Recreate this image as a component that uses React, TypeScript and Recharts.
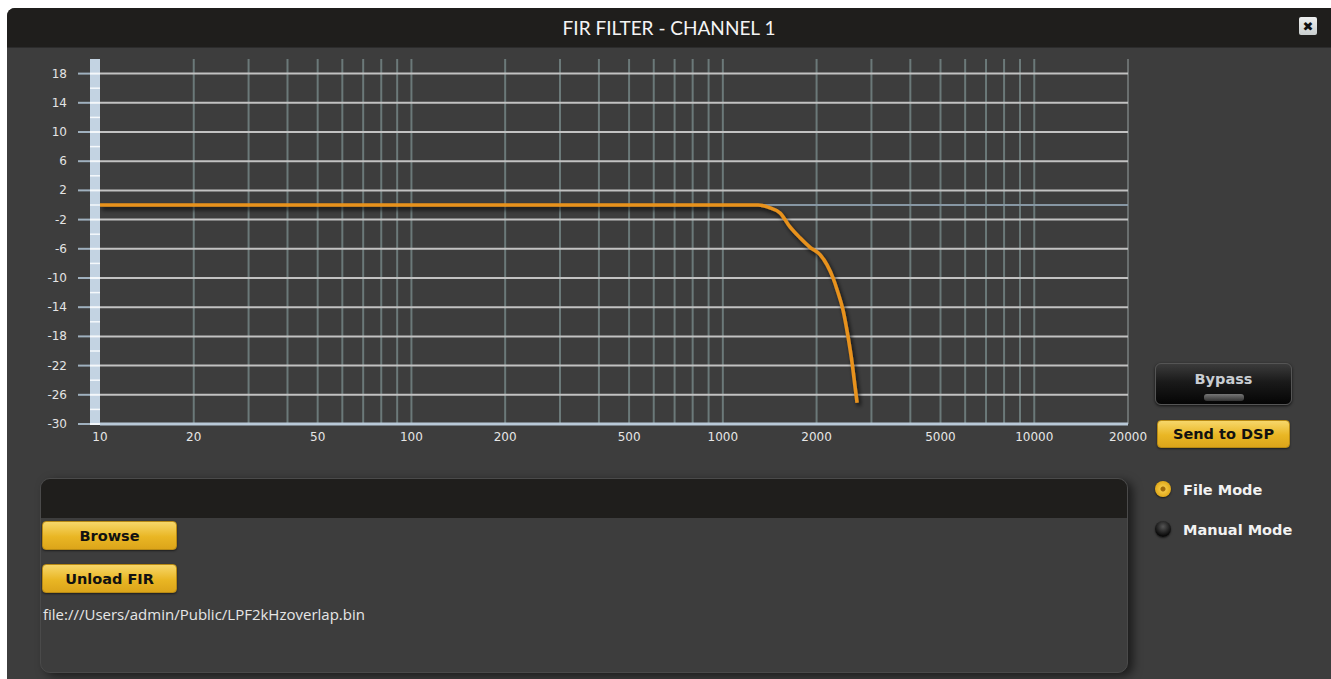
import { Line, LineChart, ReferenceLine, XAxis, YAxis } from "recharts";

// measured FIR response (Hz / dB)
const freqHz = [10, 100, 1000, 1300, 1418, 1527, 1643, 1770, 1906, 2052, 2161, 2259, 2327, 2432, 2525, 2600, 2658, 2698];
const gainDb = [0, 0, 0, 0, -0.4, -1.1, -3.0, -4.5, -5.8, -6.8, -8.2, -10.0, -11.6, -14.4, -18.1, -21.6, -24.9, -27.1];

const xTicks = [10, 20, 50, 100, 200, 500, 1000, 2000, 5000, 10000, 20000];
const xGrid = [
  20, 30, 40, 50, 60, 70, 80, 90, 100,
  200, 300, 400, 500, 600, 700, 800, 900, 1000,
  2000, 3000, 4000, 5000, 6000, 7000, 8000, 9000, 10000, 20000,
];
const yLabels = [18, 14, 10, 6, 2, -2, -6, -10, -14, -18, -22, -26, -30];
const yMarks = [-30, -28, -26, -24, -22, -20, -18, -16, -14, -12, -10, -8, -6, -4, -2, 0, 2, 4, 6, 8, 10, 12, 14, 16, 18];

const data = freqHz.map((f, i) => ({ f, db: gainDb[i] }));

const uiFont = "'DejaVu Sans', Verdana, sans-serif";

function GainTick(props: any) {
  const { x, y, payload } = props;
  const labelled = yLabels.includes(payload.value);
  return (
    <g>
      {labelled && <line x1={x + 11} x2={x + 23} y1={y} y2={y} stroke="#9fb0be" strokeWidth={2} />}
      <line x1={x + 23} x2={x + 33} y1={y} y2={y} stroke="#f4f8fb" strokeWidth={labelled ? 2 : 1.5} />
      {labelled && (
        <text x={x} y={y} dy={4} textAnchor="end" fill="#e4e4e4" fontSize={12} fontFamily={uiFont}>
          {payload.value}
        </text>
      )}
    </g>
  );
}

const yellowBtn = {
  position: "absolute" as const,
  background: "linear-gradient(#f7d76a, #e9b624 55%, #dca51a)",
  borderRadius: 4,
  border: "1px solid #b88a14",
  boxSizing: "border-box" as const,
  color: "#111",
  fontFamily: uiFont,
  fontWeight: 700,
  fontSize: 14.5,
  display: "flex",
  alignItems: "center",
  justifyContent: "center",
  boxShadow: "0 1px 2px rgba(0,0,0,0.5)",
};

const radioLabel = {
  position: "absolute" as const,
  left: 1183,
  color: "#f2f2f2",
  fontFamily: uiFont,
  fontWeight: 700,
  fontSize: 14.5,
  lineHeight: "16px",
};

export default function App() {
  return (
    <div style={{ position: "absolute", left: 0, top: 0, width: 1331, height: 679, background: "#fff", overflow: "hidden" }}>
      <style>{`body{margin:0}.fir-curve .recharts-line-curve{filter:url(#curveShadow)}`}</style>

      {/* window */}
      <div style={{ position: "absolute", left: 7, top: 8, width: 1324, height: 671, background: "#3d3d3d", borderTopLeftRadius: 8 }} />
      <div
        style={{
          position: "absolute",
          left: 7,
          top: 8,
          width: 1324,
          height: 39,
          background: "#1f1e1c",
          borderTopLeftRadius: 8,
          borderBottom: "1px solid #2c2c2c",
          color: "#f4f4f4",
          fontFamily: "Lato, 'Open Sans', sans-serif",
          fontSize: 19,
          display: "flex",
          alignItems: "center",
          justifyContent: "center",
        }}
      >
        FIR FILTER - CHANNEL 1
      </div>
      <div
        style={{
          position: "absolute",
          left: 1299,
          top: 17,
          width: 18,
          height: 18,
          background: "linear-gradient(#eef0f0, #c9cece)",
          borderRadius: 2,
          color: "#111",
          fontFamily: uiFont,
          fontSize: 13,
          fontWeight: 700,
          display: "flex",
          alignItems: "center",
          justifyContent: "center",
        }}
      >
        ✖
      </div>

      {/* y strip */}
      <div style={{ position: "absolute", left: 90, top: 59, width: 10, height: 365, background: "#c3d3e2" }} />

      <div style={{ position: "absolute", left: 0, top: 0 }}>
        <LineChart width={1331} height={460} data={data} margin={{ top: 59, right: 203, bottom: 6, left: 0 }}>
          <defs>
            <filter id="curveShadow" filterUnits="userSpaceOnUse" x="0" y="0" width="1331" height="460">
              <feDropShadow dx="2" dy="3" stdDeviation="2" floodColor="#000" floodOpacity="0.8" />
            </filter>
          </defs>
          <XAxis
            dataKey="f"
            type="number"
            scale="log"
            domain={[10, 20000]}
            ticks={xTicks}
            interval={0}
            allowDataOverflow
            height={30}
            tickLine={false}
            axisLine={{ stroke: "#b9c9d8", strokeWidth: 3 }}
            tick={{ fill: "#e6e6e6", fontSize: 12, fontFamily: uiFont }}
          />
          <YAxis
            type="number"
            domain={[-30, 20]}
            ticks={yMarks}
            interval={0}
            width={100}
            tickSize={22}
            tickMargin={11}
            tickLine={false}
            axisLine={false}
            tick={<GainTick />}
          />
          {xGrid.map((v) => (
            <ReferenceLine key={`x${v}`} x={v} stroke={v === 20000 ? "#6a6f6f" : "#6b7979"} strokeWidth={2} />
          ))}
          {yLabels
            .filter((v) => v !== -30)
            .map((v) => (
              <ReferenceLine key={`y${v}`} y={v} stroke="#c2c2c2" strokeWidth={2} />
            ))}
          <ReferenceLine y={0} stroke="#8797a4" strokeWidth={2} />
          <Line
            className="fir-curve"
            dataKey="db"
            type="monotone"
            stroke="#e8921e"
            strokeWidth={3.5}
            dot={false}
            activeDot={false}
            isAnimationActive={false}
          />
        </LineChart>
      </div>

      {/* right controls */}
      <div
        style={{
          position: "absolute",
          left: 1155,
          top: 363,
          width: 137,
          height: 42,
          boxSizing: "border-box",
          borderRadius: 6,
          border: "1px solid #555",
          background: "linear-gradient(#3b3b3b, #1a1a1a 45%, #050505)",
          boxShadow: "0 1px 3px rgba(0,0,0,0.7)",
          color: "#c9cdd2",
          fontFamily: uiFont,
          fontWeight: 700,
          fontSize: 14.5,
          textAlign: "center",
          paddingTop: 7,
        }}
      >
        Bypass
        <div
          style={{
            position: "absolute",
            left: 48,
            top: 30,
            width: 40,
            height: 7,
            borderRadius: 3,
            background: "linear-gradient(#777, #333)",
          }}
        />
      </div>
      <div style={{ ...yellowBtn, left: 1157, top: 420, width: 133, height: 28 }}>Send to DSP</div>

      <div
        style={{
          position: "absolute",
          left: 1155,
          top: 481,
          width: 16,
          height: 16,
          borderRadius: "50%",
          background: "radial-gradient(circle, #a06a0a 0 2px, #f1c440 3px, #e0a818 8px)",
          boxShadow: "0 1px 2px rgba(0,0,0,0.6)",
        }}
      />
      <div style={{ ...radioLabel, top: 482 }}>File Mode</div>
      <div
        style={{
          position: "absolute",
          left: 1155,
          top: 521,
          width: 16,
          height: 16,
          borderRadius: "50%",
          background: "radial-gradient(circle at 50% 35%, #555, #0a0a0a 70%)",
          boxShadow: "0 1px 2px rgba(0,0,0,0.6)",
        }}
      />
      <div style={{ ...radioLabel, top: 522 }}>Manual Mode</div>

      {/* file panel */}
      <div
        style={{
          position: "absolute",
          left: 40,
          top: 478,
          width: 1088,
          height: 195,
          borderRadius: 10,
          background: "#3d3d3d",
          border: "1px solid #4a4a4a",
          boxSizing: "border-box",
          boxShadow: "5px 3px 10px rgba(0,0,0,0.55)",
          overflow: "hidden",
        }}
      >
        <div style={{ height: 39, background: "#1f1e1c" }} />
      </div>
      <div style={{ ...yellowBtn, left: 42, top: 521, width: 135, height: 29 }}>Browse</div>
      <div style={{ ...yellowBtn, left: 42, top: 564, width: 135, height: 29 }}>Unload FIR</div>
      <div
        style={{
          position: "absolute",
          left: 43,
          top: 604,
          color: "#e6e6e6",
          fontFamily: "'Open Sans', sans-serif",
          fontSize: 15,
        }}
      >
        file:///Users/admin/Public/LPF2kHzoverlap.bin
      </div>
    </div>
  );
}
